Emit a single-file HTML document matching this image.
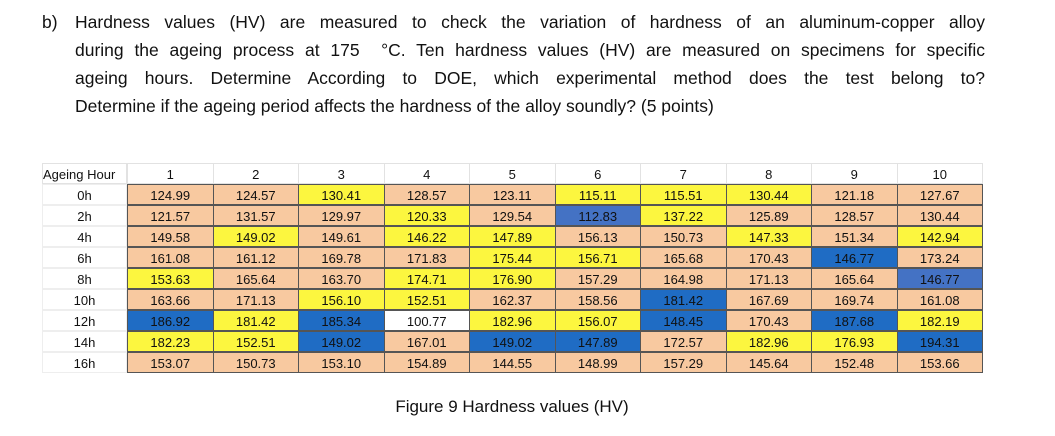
<!DOCTYPE html>
<html><head><meta charset="utf-8">
<style>
body{margin:0;width:1055px;height:436px;background:#fff;position:relative;overflow:hidden;font-family:"Liberation Sans",sans-serif;color:#111}
.ln{position:absolute;left:75px;width:910px;font-size:17.5px;line-height:20px;white-space:nowrap}
.j{text-align:justify;text-align-last:justify;white-space:normal}
#tbl{position:absolute;left:0;top:0}
.c{position:absolute;height:21px;line-height:21px;text-align:center;font-size:13px;box-sizing:border-box}
.cap{position:absolute;left:0;width:1024px;text-align:center;top:397px;font-size:17px}
</style></head><body>
<div class="ln" style="left:42px;top:12px;width:30px">b)</div>
<div class="ln j" style="top:12px">Hardness values (HV) are measured to check the variation of hardness of an aluminum-copper alloy</div>
<div class="ln j" style="top:40px">during the ageing process at 175 &nbsp;°C. Ten hardness values (HV) are measured on specimens for specific</div>
<div class="ln j" style="top:68px">ageing hours. Determine According to DOE, which experimental method does the test belong to?</div>
<div class="ln" style="top:96px">Determine if the ageing period affects the hardness of the alloy soundly? (5 points)</div>
<div id="tbl"></div>
<div class="cap">Figure 9 Hardness values (HV)</div>
<script>
const hours=["0h","2h","4h","6h","8h","10h","12h","14h","16h"];
const specimens=["1","2","3","4","5","6","7","8","9","10"];
const values=[
["124.99","124.57","130.41","128.57","123.11","115.11","115.51","130.44","121.18","127.67"],
["121.57","131.57","129.97","120.33","129.54","112.83","137.22","125.89","128.57","130.44"],
["149.58","149.02","149.61","146.22","147.89","156.13","150.73","147.33","151.34","142.94"],
["161.08","161.12","169.78","171.83","175.44","156.71","165.68","170.43","146.77","173.24"],
["153.63","165.64","163.70","174.71","176.90","157.29","164.98","171.13","165.64","146.77"],
["163.66","171.13","156.10","152.51","162.37","158.56","181.42","167.69","169.74","161.08"],
["186.92","181.42","185.34","100.77","182.96","156.07","148.45","170.43","187.68","182.19"],
["182.23","152.51","149.02","167.01","149.02","147.89","172.57","182.96","176.93","194.31"],
["153.07","150.73","153.10","154.89","144.55","148.99","157.29","145.64","152.48","153.66"]];
const fills=["PPYPPYYYPP","PPPYPLYPPP","PYPYYPPYPY","PPPPYYPPBP","YPPYYPPPPL","PPYYPPBPPP","BYBWYYBPBY","YYBPBBPYYB","PPPPPPPPPP"];
const col={P:"#f8c9a0",Y:"#fcf63f",B:"#1f6cc4",L:"#4472c4",W:"#ffffff"};
const T=document.getElementById('tbl');
const x0=127,cw=85.5,y0=163,rh=21;
function cell(x,y,w,txt,bg,border){const d=document.createElement('div');d.className='c';
d.style.left=x+'px';d.style.top=y+'px';d.style.width=w+'px';d.style.background=bg;d.style.border=border;d.textContent=txt;T.appendChild(d);return d;}
let h=cell(42,y0,85,"Ageing Hour","#fff","1px solid #e2e2e2");


h.style.textAlign='left';
specimens.forEach((s,i)=>{const d=cell(x0+i*cw,y0,cw+1,s,"#fff","1px solid #e2e2e2");

});
hours.forEach((hr,r)=>{const y=y0+rh*(r+1);
const l=cell(42,y,85,hr,"#fff","1px solid #eee");


values[r].forEach((v,i)=>{const d=cell(x0+i*cw,y,cw+1,v,col[fills[r][i]],"1px solid #555");

});});
</script>
</body></html>
